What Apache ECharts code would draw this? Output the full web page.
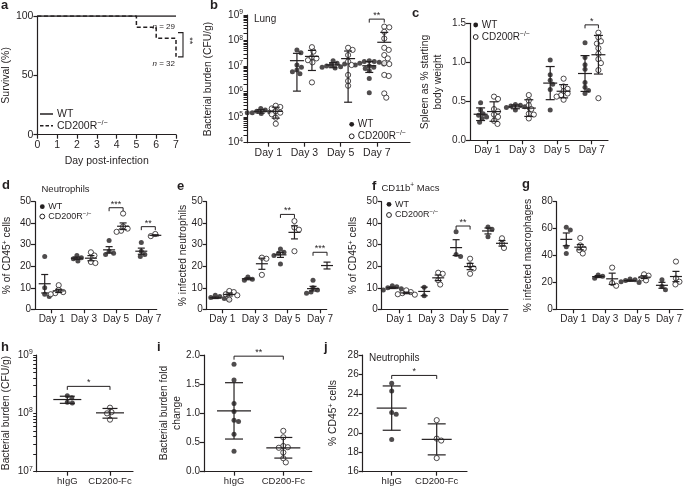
<!DOCTYPE html>
<html><head><meta charset="utf-8">
<script src="https://cdn.jsdelivr.net/npm/echarts@6/dist/echarts.min.js"></script>
<style>html,body{margin:0;padding:0;background:#fff}#c{width:685px;height:492px}</style>
</head><body><div id="c"></div>
<script>
// ---------------- DATA ----------------
const dayLabels = ['Day 1', 'Day 3', 'Day 5', 'Day 7'];
const treatLabels = ['hIgG', 'CD200-Fc'];
// a: survival (%)
const survDays = [0, 5, 6, 7];
const survWT = [100, 100, 100, 100];
const survKO = [100, 90.6, 81.3, 65.6];
// b: lung bacterial burden (CFU/g)
const lungWT = [
  [2.2e5, 1.9e5, 1.7e5, 1.6e5, 1.5e5, 1.4e5, 1.5e5, 1.8e5],
  [4.3e7, 3.3e7, 1.1e7, 9e6, 7e6, 6e6, 5e6],
  [1.6e7, 1.3e7, 1.1e7, 1e7, 9.5e6, 9e6, 8.5e6, 1.2e7],
  [1.6e7, 1.5e7, 1.5e7, 1.4e7, 1.3e7, 1.2e7, 1.1e7, 1e7, 9e6, 8e6, 6.5e6, 3.3e6, 9e5]
];
const lungKO = [
  [2.8e5, 2.5e5, 2.2e5, 1.7e5, 1.5e5, 1.3e5, 9.5e4, 5.5e4],
  [5.5e7, 3.7e7, 2.2e7, 2e7, 1.7e7, 1.4e7, 2.3e6],
  [5.2e7, 4.3e7, 2.7e7, 1.5e7, 1.1e7, 4.5e6, 2.6e6, 1.7e6],
  [3.5e8, 3.3e8, 2.2e8, 1.2e8, 5.2e7, 4.3e7, 2.7e7, 2e7, 1.3e7, 1.2e7, 4.5e6, 4.1e6, 8.5e5, 5.8e5]
];
// c: spleen as % starting body weight
const spleenWT = [
  [0.48, 0.39, 0.34, 0.32, 0.30, 0.28, 0.23],
  [0.46, 0.45, 0.44, 0.43, 0.42, 0.41, 0.39],
  [1.03, 0.84, 0.77, 0.72, 0.65, 0.39],
  [1.25, 1.06, 0.97, 0.91, 0.74, 0.68, 0.64, 0.60]
];
const spleenKO = [
  [0.56, 0.53, 0.40, 0.37, 0.33, 0.30, 0.25, 0.21],
  [0.58, 0.51, 0.45, 0.40, 0.34, 0.33, 0.28],
  [0.79, 0.69, 0.66, 0.63, 0.60, 0.58, 0.56, 0.52],
  [1.38, 1.32, 1.27, 1.24, 1.18, 1.11, 1.04, 0.99, 0.90, 0.54]
];
// d: neutrophils % of CD45+
const neutWT = [[24.5, 10, 7, 6], [25, 24, 23.5, 22.5], [32, 27, 26, 25.5], [31, 27, 25.5, 24.5]];
const neutKO = [[11.2, 9, 8, 7.5, 7], [26.5, 25, 22, 21.5], [44.5, 38.5, 37.5, 36.5, 36], [35, 34.5, 34, 34]];
// e: % infected neutrophils
const infNeutWT = [[6.5, 6, 5.5, 5, 4.5, 4.5], [15, 14, 13.5], [28, 26.5, 26, 25, 21], [13.5, 10, 9, 8, 7.5]];
const infNeutKO = [[8.5, 8, 7, 6.5, 4.5], [24, 23.5, 16], [41, 38, 37, 27], [23.5, 19, 18.5]];
// f: CD11b+ macs % of CD45+
const macWT = [[11, 10.5, 10, 9.5, 9], [10.3, 6.3], [36, 25.5, 24.5], [38.3, 37.2, 33.7]];
const macKO = [[8.8, 8, 7.5, 7, 6.8], [17, 16.5, 13.5, 11.5], [23.5, 20.5, 19, 16.5], [33, 30.5, 28.5]];
// g: % infected macrophages
const infMacWT = [[61, 59, 46.5, 41.5], [25.5, 24.5, 23], [22.5, 22, 21.5, 20.5, 20], [22, 17, 14.5]];
const infMacKO = [[53, 47.5, 45, 44, 41.5], [31, 19.5, 17.5], [26, 25, 23, 21.5], [35.5, 23, 20.5, 18.5]];
// h: bacterial burden (CFU/g)
const burdenIgG = [2.0e8, 1.85e8, 1.55e8, 1.5e8];
const burdenFc = [1.25e8, 1.05e8, 1.0e8, 7.8e7];
// i: bacterial burden fold change
const foldIgG = [1.84, 1.57, 1.17, 1.03, 0.88, 0.86, 0.64, 0.35];
const foldFc = [0.70, 0.59, 0.44, 0.42, 0.41, 0.33, 0.23, 0.16];
// j: neutrophils % CD45+
const neutIgG = [25.1, 24.3, 22.1, 21.9, 19.3];
const neutFc = [21.3, 19.4, 19.2, 17.4];
// significance brackets
const sigLung = [{from: 3, to: 3, y: 6.9e8, t: '**'}];
const sigSpleen = [{from: 3, to: 3, y: 1.48, t: '*'}];
const sigNeut = [{from: 2, to: 2, y: 47.2, t: '***'}, {from: 3, to: 3, y: 38.4, t: '**'}];
const sigInfNeut = [{from: 2, to: 2, y: 44.1, t: '**'}, {from: 3, to: 3, y: 26.5, t: '***'}];
const sigMac = [{from: 2, to: 2, y: 38.7, t: '**'}];
const sigBurden = [{from: 0, to: 1, y: 2.9e8, t: '*'}];
const sigFold = [{from: 0, to: 1, y: 1.98, t: '**'}];
const sigNeutJ = [{from: 0, to: 1, y: 25.9, t: '*'}];

// ---------------- STYLE / HELPERS ----------------
const INK = '#231f20';
const FONT = "'Liberation Sans', Arial, Helvetica, sans-serif";
const option = {animation: false, backgroundColor: '#fff', grid: [], xAxis: [], yAxis: [], series: [], graphic: []};
const sigJobs = [];
const maxChecks = [];

const mean = a => a.reduce((s, v) => s + v, 0) / a.length;
const sdev = a => { const m = mean(a); return Math.sqrt(a.reduce((s, v) => s + (v - m) * (v - m), 0) / (a.length - 1)); };

function swarm(vals, toPx, r) {
  const placed = [], out = [];
  vals.forEach(v => {
    const py = toPx(v);
    let off = 0;
    for (let k = 0; k < 400; k++) {
      off = k === 0 ? 0 : (k % 2 ? 1 : -1) * Math.ceil(k / 2) * 0.5;
      if (placed.every(p => (p.x - off) ** 2 + (p.y - py) ** 2 >= (2 * r) ** 2)) break;
    }
    placed.push({x: off, y: py});
    out.push(off);
  });
  return out;
}
function axisRich(fs) {
  return {s: {fontSize: fs * 0.68, fontFamily: FONT, color: INK, padding: [0, 0, fs * 0.55, 0]}};
}
const supG = fs => ({s: {fontSize: fs * 0.68, fontFamily: FONT, fill: INK, padding: [0, 0, fs * 0.55, 0]}});
function gText(x, y, text, extra) {
  option.graphic.push({type: 'text', x, y, silent: true, z: 10,
    style: Object.assign({text, fill: INK, fontSize: 9.5, fontFamily: FONT, align: 'left', verticalAlign: 'middle', rich: supG(9.5)}, extra || {})});
}
function yTitle(x, y, text) {
  option.graphic.push({type: 'text', x, y, rotation: Math.PI / 2, silent: true, z: 10,
    style: {text, fill: INK, fontSize: 10.3, fontFamily: FONT, align: 'center', verticalAlign: 'middle', lineHeight: 12.8, rich: supG(10.3)}});
}
const lineSt = {color: INK, width: 1.2};

function addPanel(p) {
  const gi = option.grid.length;
  option.grid.push({left: p.rect[0], top: p.rect[1], width: p.rect[2], height: p.rect[3]});
  const xi = option.xAxis.length;
  const ticks = p.cats.map((_, i) => i);
  option.xAxis.push({
    gridIndex: gi, type: 'value', min: p.xr[0], max: p.xr[1], splitLine: {show: false},
    axisLine: {show: true, onZero: false, lineStyle: lineSt},
    axisTick: {show: true, customValues: ticks, length: 4, lineStyle: lineSt},
    axisLabel: {show: true, customValues: ticks, formatter: v => p.cats[Math.round(v)], color: INK,
      fontSize: p.xfs, fontFamily: FONT, margin: 5}
  });
  const yi = option.yAxis.length;
  const y = p.y;
  const base = {
    gridIndex: gi, position: 'left', min: y.min, max: y.max, splitLine: {show: false},
    axisLine: {show: true, onZero: false, lineStyle: lineSt},
    axisTick: {show: true, length: 4, lineStyle: lineSt}
  };
  const f = y.log ? Math.log10 : (v => v);
  if (y.log) {
    const dec = [], minors = [];
    for (let e = Math.round(Math.log10(y.min)); e <= Math.round(Math.log10(y.max)); e++) {
      dec.push(Math.pow(10, e));
      if (e < Math.round(Math.log10(y.max))) for (let k = 2; k <= 9; k++) minors.push(k * Math.pow(10, e));
    }
    base.type = 'log'; base.logBase = 10;
    base.axisTick = {show: true, customValues: dec.concat(minors), length: 3.5, lineStyle: {color: INK, width: 1}};
    base.axisLabel = {show: true, customValues: dec, formatter: v => '10{s|' + Math.round(Math.log10(v)) + '}',
      color: INK, fontSize: 10, fontFamily: FONT, margin: 4, rich: axisRich(10)};
  } else {
    const vals = [];
    for (let v = y.min; v <= y.max + 1e-9; v += y.interval) vals.push(+v.toFixed(6));
    const key = 'k' + gi;
    const fmt = v => (y.dec ? v.toFixed(y.dec) : String(v));
    const rich = {};
    rich[key] = {fontSize: 10, fontFamily: FONT, color: INK};
    base.type = 'value';
    base.axisTick.customValues = vals;
    base.axisLabel = {show: true, customValues: vals, formatter: v => '{' + key + '|' + fmt(v) + '}', color: INK,
      fontSize: 10, fontFamily: FONT, margin: 4, rich, showMaxLabel: true, showMinLabel: true, hideOverlap: false};
    maxChecks.push({gi, full: '{' + key + '|' + fmt(y.max) + '}', text: fmt(y.max), x: p.xr[0], y: y.max});
  }
  option.yAxis.push(base);
  yTitle(p.title[0], p.title[1], p.name);

  const pxPerUnit = p.rect[2] / (p.xr[1] - p.xr[0]);
  const toPx = v => (f(v) - f(y.min)) / (f(y.max) - f(y.min)) * p.rect[3];
  const bars = [];
  p.sets.forEach(set => {
    const pts = [];
    set.d.forEach((vals, ci) => {
      if (!vals.length) return;
      const offs = swarm(vals, toPx, 2.3);
      const cx = ci + set.side / pxPerUnit;
      vals.forEach((v, k) => pts.push([cx + offs[k] / pxPerUnit, v]));
      const m = mean(vals);
      const e = p.err === 'sd' ? sdev(vals) : sdev(vals) / Math.sqrt(vals.length);
      bars.push([cx, m, m - e, m + e]);
    });
    option.series.push({
      type: 'scatter', xAxisIndex: xi, yAxisIndex: yi, symbol: 'circle', symbolSize: set.f ? 5 : 5.2, z: 3,
      itemStyle: set.f ? {color: INK, borderWidth: 0} : {color: '#fff', borderColor: INK, borderWidth: 1},
      data: pts
    });
  });
  option.series.push({
    type: 'custom', xAxisIndex: xi, yAxisIndex: yi, z: 5, silent: true, data: bars,
    renderItem: (params, api) => {
      const x = api.value(0), m = api.value(1), lo = api.value(2), hi = api.value(3);
      const pm = api.coord([x, m]), ph = api.coord([x, hi]);
      const pl = lo > 0 ? api.coord([x, lo]) : null;
      const st = {stroke: INK, lineWidth: 1.2};
      const ch = [
        {type: 'line', shape: {x1: pm[0] - p.mh, y1: pm[1], x2: pm[0] + p.mh, y2: pm[1]}, style: st},
        {type: 'line', shape: {x1: pm[0], y1: ph[1], x2: pm[0], y2: pl ? pl[1] : pm[1]}, style: st},
        {type: 'line', shape: {x1: pm[0] - p.ch, y1: ph[1], x2: pm[0] + p.ch, y2: ph[1]}, style: st}
      ];
      if (pl) ch.push({type: 'line', shape: {x1: pm[0] - p.ch, y1: pl[1], x2: pm[0] + p.ch, y2: pl[1]}, style: st});
      return {type: 'group', children: ch};
    }
  });
  if (p.sig.length) {
    sigJobs.push({gi, items: p.sig.map(s => ({
      x0: s.from + p.sets[0].side / pxPerUnit, x1: s.to + p.sets[1].side / pxPerUnit, y: s.y, t: s.t}))});
  }
}

// ---------------- PANELS ----------------
const daySets = (wt, ko, side) => [{d: wt, f: true, side: -side}, {d: ko, f: false, side: side}];
const trtSets = (g1, g2) => [{d: [g1, []], f: true, side: 0}, {d: [[], g2], f: false, side: 0}];

addPanel({rect: [247, 15, 163, 127.7], xr: [-0.588, 3.919], cats: dayLabels, xfs: 10.5,
  y: {log: true, min: 1e4, max: 1e9}, name: 'Bacterial burden (CFU/g)', title: [208, 79],
  sets: daySets(lungWT, lungKO, 7.5), err: 'sd', mh: 7, ch: 4, sig: sigLung});
addPanel({rect: [470, 23.3, 138, 117], xr: [-0.497, 3.468], cats: dayLabels, xfs: 10,
  y: {min: 0, max: 1.5, interval: 0.5, dec: 1}, name: 'Spleen as % starting\nbody weight', title: [431.5, 82],
  sets: daySets(spleenWT, spleenKO, 6.7), err: 'sd', mh: 7, ch: 4.5, sig: sigSpleen});
addPanel({rect: [35, 201.7, 121.7, 107.6], xr: [-0.519, 3.261], cats: dayLabels, xfs: 10,
  y: {min: 0, max: 50, interval: 10}, name: '% of CD45{s|+} cells', title: [7.5, 255.5],
  sets: daySets(neutWT, neutKO, 7), err: 'sem', mh: 6, ch: 3.5, sig: sigNeut});
addPanel({rect: [206.7, 201.7, 120, 107.6], xr: [-0.479, 3.205], cats: dayLabels, xfs: 10,
  y: {min: 0, max: 50, interval: 10}, name: '% infected neutrophils', title: [183, 255.5],
  sets: daySets(infNeutWT, infNeutKO, 7), err: 'sem', mh: 6, ch: 3.5, sig: sigInfNeut});
addPanel({rect: [381.7, 201.7, 126.3, 107.6], xr: [-0.552, 3.408], cats: dayLabels, xfs: 10,
  y: {min: 0, max: 50, interval: 10}, name: '% of CD45{s|+} cells', title: [353.5, 255.5],
  sets: daySets(macWT, macKO, 7), err: 'sem', mh: 6, ch: 3.5, sig: sigMac});
addPanel({rect: [556.7, 201.7, 126.3, 107.6], xr: [-0.52, 3.439], cats: dayLabels, xfs: 10,
  y: {min: 0, max: 80, interval: 20}, name: '% infected macrophages', title: [528.5, 255.5],
  sets: daySets(infMacWT, infMacKO, 7), err: 'sem', mh: 6, ch: 3.5, sig: []});
addPanel({rect: [36.7, 355, 96.3, 116.7], xr: [-0.717, 1.539], cats: treatLabels, xfs: 9.5,
  y: {log: true, min: 1e7, max: 1e9}, name: 'Bacterial burden (CFU/g)', title: [6.5, 413],
  sets: trtSets(burdenIgG, burdenFc), err: 'sd', mh: 14, ch: 7.5, sig: sigBurden});
addPanel({rect: [204, 355, 107.7, 116.7], xr: [-0.609, 1.576], cats: treatLabels, xfs: 9.5,
  y: {min: 0, max: 2, interval: 0.5, dec: 1}, name: 'Bacterial burden fold\nchange', title: [170.5, 413],
  sets: trtSets(foldIgG, foldFc), err: 'sd', mh: 17, ch: 9, sig: sigFold});
addPanel({rect: [362.7, 355, 104.3, 116.7], xr: [-0.644, 1.673], cats: treatLabels, xfs: 9.5,
  y: {min: 16, max: 28, interval: 2}, name: '% CD45{s|+} cells', title: [333.5, 413],
  sets: trtSets(neutIgG, neutFc), err: 'sd', mh: 15, ch: 9, sig: sigNeutJ});

// ---------------- PANEL a (survival) ----------------
(function () {
  const gi = option.grid.length;
  option.grid.push({left: 36, top: 16, width: 140, height: 118.7});
  const xi = option.xAxis.length, yi = option.yAxis.length;
  option.xAxis.push({gridIndex: gi, type: 'value', min: 0, max: 7, interval: 1, splitLine: {show: false},
    axisLine: {show: true, onZero: false, lineStyle: lineSt}, axisTick: {show: true, length: 4, lineStyle: lineSt},
    axisLabel: {color: INK, fontSize: 10.5, fontFamily: FONT, margin: 5},
    name: 'Day post-infection', nameLocation: 'middle', nameGap: 21,
    nameTextStyle: {color: INK, fontSize: 10.5, fontFamily: FONT}});
  option.yAxis.push({gridIndex: gi, type: 'value', position: 'left', min: 0, max: 100, interval: 50, splitLine: {show: false},
    axisLine: {show: true, onZero: false, lineStyle: lineSt}, axisTick: {show: true, length: 4, lineStyle: lineSt},
    axisLabel: {color: INK, fontSize: 10.5, fontFamily: FONT, margin: 4},
    name: 'Survival (%)', nameLocation: 'middle', nameRotate: 90, nameGap: 21,
    nameTextStyle: {color: INK, fontSize: 10.5, fontFamily: FONT}});
  option.series.push({type: 'line', xAxisIndex: xi, yAxisIndex: yi, step: 'end', symbol: 'none', z: 2,
    lineStyle: {color: INK, width: 1.5, type: [4, 2.5]}, data: survDays.map((d, i) => [d, survKO[i]])});
  option.series.push({type: 'line', xAxisIndex: xi, yAxisIndex: yi, symbol: 'none', z: 3,
    lineStyle: {color: INK, width: 1.5}, data: survDays.map((d, i) => [d, survWT[i]])});
  option.series.push({type: 'custom', xAxisIndex: xi, yAxisIndex: yi, z: 4, silent: true,
    data: [[7, 86, 65.6]],
    renderItem: (params, api) => {
      const a = api.coord([api.value(0), api.value(1)]), b = api.coord([api.value(0), api.value(2)]);
      const x = a[0] + 7;
      const nA = api.coord([7, 90.6]), nB = api.coord([7, 59.5]);
      const tst = {fontSize: 8, fontFamily: FONT, fill: INK, rich: {i: {fontStyle: 'italic', fontSize: 8, fontFamily: FONT, fill: INK}}};
      return {type: 'group', children: [
        {type: 'polyline', shape: {points: [[x - 5, a[1]], [x, a[1]], [x, b[1]], [x - 5, b[1]]]}, style: {stroke: INK, lineWidth: 1.1, fill: null}},
        {type: 'text', x: x + 6, y: (a[1] + b[1]) / 2 - 4, rotation: -Math.PI / 2,
          style: {text: '**', align: 'center', verticalAlign: 'middle', fontSize: 9, fontFamily: FONT, fill: INK}},
        {type: 'text', x: nA[0] - 1, y: nA[1], style: Object.assign({text: '{i|n} = 29', align: 'right', verticalAlign: 'middle'}, tst)},
        {type: 'text', x: nB[0] - 1, y: nB[1], style: Object.assign({text: '{i|n} = 32', align: 'right', verticalAlign: 'middle'}, tst)}
      ]};
    }});
})();

// ---------------- LETTERS, TITLES, LEGENDS ----------------
[['a', 1, -1], ['b', 210, -1], ['c', 412, 7.3], ['d', 2, 179], ['e', 177, 180], ['f', 372, 180],
 ['g', 522, 178], ['h', 1, 341], ['i', 157, 341], ['j', 324, 341]].forEach(([t, x, y]) =>
  gText(x, y, t, {fontSize: 13, fontWeight: 'bold', verticalAlign: 'top'}));
gText(254, 19, 'Lung', {fontSize: 10});
gText(41.5, 189, 'Neutrophils', {fontSize: 9.5});
gText(381.5, 188, 'CD11b{s|+} Macs', {fontSize: 9.5});
gText(369, 358.3, 'Neutrophils', {fontSize: 10});

function dotLegend(x, y1, y2, fs) {
  option.graphic.push({type: 'circle', silent: true, z: 10, shape: {cx: x, cy: y1, r: 2.4}, style: {fill: INK}});
  option.graphic.push({type: 'circle', silent: true, z: 10, shape: {cx: x, cy: y2, r: 2.4}, style: {fill: '#fff', stroke: INK, lineWidth: 1}});
  gText(x + 6, y1, 'WT', {fontSize: fs, rich: supG(fs)});
  gText(x + 6, y2, 'CD200R{s|−/−}', {fontSize: fs, rich: supG(fs)});
}
dotLegend(351.7, 124.3, 136.3, 10);
dotLegend(475.7, 25, 37, 10);
dotLegend(42.3, 206.7, 216.5, 9);
dotLegend(389, 204.3, 215, 9);
// panel a legend
option.graphic.push({type: 'line', silent: true, z: 10, shape: {x1: 40, y1: 114, x2: 53, y2: 114}, style: {stroke: INK, lineWidth: 1.5}});
option.graphic.push({type: 'line', silent: true, z: 10, shape: {x1: 40, y1: 125.7, x2: 53, y2: 125.7}, style: {stroke: INK, lineWidth: 1.5, lineDash: [3.5, 2]}});
gText(57, 114, 'WT', {fontSize: 10.5, rich: supG(10.5)});
gText(57, 125.7, 'CD200R{s|−/−}', {fontSize: 10.5, rich: supG(10.5)});

const chart = echarts.init(document.getElementById('c'), null, {renderer: 'canvas'});
chart.setOption(option);

// significance brackets, placed through each grid's own axes
const extraGraphics = [];
sigJobs.forEach(job => job.items.forEach(it => {
  const a = chart.convertToPixel({gridIndex: job.gi}, [it.x0, it.y]);
  const b = chart.convertToPixel({gridIndex: job.gi}, [it.x1, it.y]);
  if (!a || !b) return;
  extraGraphics.push({type: 'polyline', silent: true, z: 10,
    shape: {points: [[a[0], a[1] + 3.5], [a[0], a[1]], [b[0], b[1]], [b[0], b[1] + 3.5]]},
    style: {stroke: INK, lineWidth: 1, fill: 'none'}});
  extraGraphics.push({type: 'text', silent: true, z: 10, x: (a[0] + b[0]) / 2, y: a[1] + 1,
    style: {text: it.t, align: 'center', verticalAlign: 'bottom', fontSize: 9, fontFamily: FONT, fill: INK}});
}));

// make sure the top tick label of each linear axis is visible
try {
  const visible = new Set();
  chart.getZr().storage.traverse(el => {
    if (!el || !el.style || typeof el.style.text !== 'string') return;
    let hidden = false, n = el;
    while (n) { if (n.ignore || n.invisible) { hidden = true; break; } n = n.parent; }
    if (!hidden) visible.add(el.style.text);
  });
  maxChecks.forEach(c => {
    if (visible.has(c.full)) return;
    const pt = chart.convertToPixel({gridIndex: c.gi}, [c.x, c.y]);
    if (!pt) return;
    extraGraphics.push({type: 'text', silent: true, z: 10, x: pt[0] - 4, y: pt[1],
      style: {text: c.text, align: 'right', verticalAlign: 'middle', fontSize: 10, fontFamily: FONT, fill: INK}});
  });
} catch (e) { /* ignore */ }

chart.setOption({graphic: option.graphic.concat(extraGraphics)});
</script>
</body></html>
